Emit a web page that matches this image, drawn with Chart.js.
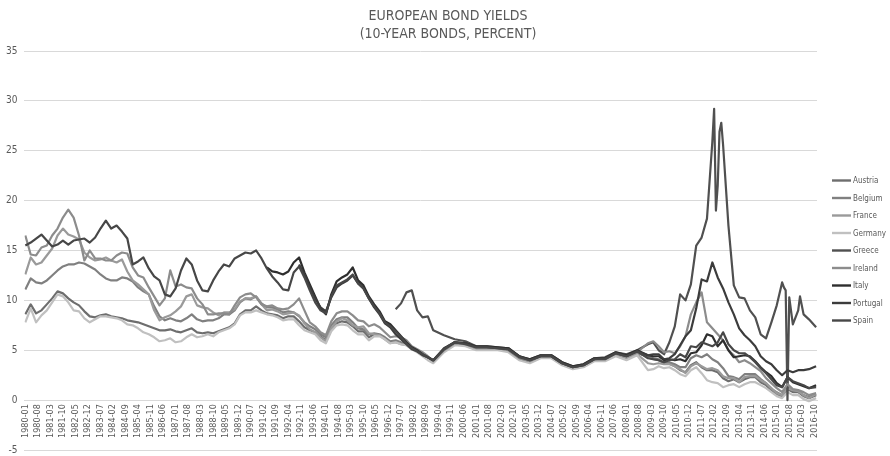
<!DOCTYPE html>
<html>
<head>
<meta charset="utf-8">
<title>European bond yields</title>
<script src="https://cdn.jsdelivr.net/npm/chart.js@4.4.1/dist/chart.umd.min.js"></script>
<style>
  html, body { margin: 0; padding: 0; background: #fff; }
</style>
</head>
<body>
<canvas id="bondChart" width="890" height="456"></canvas>
<script>
// sample months (quarterly to 1998, half-yearly 1999-2008, quarterly after)
const months = [
  '1980-01','1980-04','1980-07','1980-10','1981-01','1981-04','1981-07','1981-10',
  '1982-01','1982-04','1982-07','1982-10','1983-01','1983-04','1983-07','1983-10',
  '1984-01','1984-04','1984-07','1984-10','1985-01','1985-04','1985-07','1985-10',
  '1986-01','1986-04','1986-07','1986-10','1987-01','1987-04','1987-07','1987-10',
  '1988-01','1988-04','1988-07','1988-10','1989-01','1989-04','1989-07','1989-10',
  '1990-01','1990-04','1990-07','1990-10','1991-01','1991-04','1991-07','1991-10',
  '1992-01','1992-04','1992-07','1992-10','1993-01','1993-04','1993-07','1993-10',
  '1994-01','1994-04','1994-07','1994-10','1995-01','1995-04','1995-07','1995-10',
  '1996-01','1996-04','1996-07','1996-10','1997-01','1997-04','1997-07','1997-10',
  '1998-01','1998-04','1998-07','1998-10',
  '1999-01','1999-07','2000-01','2000-07','2001-01','2001-07','2002-01','2002-07','2003-01','2003-07',
  '2004-01','2004-07','2005-01','2005-07','2006-01','2006-07','2007-01','2007-07','2008-01','2008-07',
  '2009-01','2009-04','2009-07','2009-10','2010-01','2010-04','2010-07','2010-10',
  '2011-01','2011-04','2011-07','2011-10','2012-01','2012-04','2012-07','2012-10',
  '2013-01','2013-04','2013-07','2013-10','2014-01','2014-04','2014-07','2014-10',
  '2015-01','2015-04','2015-07','2015-10','2016-01','2016-04','2016-07','2016-11'
];

const austria = [
  8.6, 9.6, 8.7, 9.0,  9.6, 10.2, 10.9, 10.7,  10.2, 9.8, 9.5, 8.9,  8.4, 8.3, 8.5, 8.6,
  8.4, 8.3, 8.2, 8.0,  7.9, 7.8, 7.6, 7.4,  7.2, 7.0, 7.0, 7.1,  6.9, 6.8, 7.0, 7.2,
  6.8, 6.7, 6.8, 6.7,  6.9, 7.1, 7.3, 7.7,  8.6, 9.0, 9.0, 9.4,  9.0, 8.7, 8.6, 8.5,
  8.2, 8.4, 8.4, 7.9,  7.3, 7.0, 6.8, 6.4,  6.0, 7.1, 7.7, 7.9,  7.8, 7.4, 6.9, 6.9,
  6.3, 6.6, 6.5, 6.2,  5.8, 5.9, 5.7, 5.6,  5.2, 4.9, 4.6, 4.2,
  3.9, 4.9, 5.7, 5.6, 5.1, 5.2, 5.1, 5.0, 4.2, 3.9,
  4.4, 4.3, 3.6, 3.2, 3.4, 4.0, 4.1, 4.6, 4.3, 4.7,
  4.4, 4.2, 4.1, 3.7,  3.7, 3.4, 3.0, 2.8,  3.5, 3.8, 3.3, 3.0,  3.0, 2.8, 2.2, 1.9,
  2.1, 1.8, 2.1, 2.3,  2.3, 1.8, 1.5, 1.0,  0.6, 0.3, 1.1, 0.8,  0.8, 0.4, 0.2, 0.5
];
const belgium = [
  11.1, 12.2, 11.8, 11.7,  12.0, 12.5, 13.0, 13.4,  13.6, 13.6, 13.8, 13.7,  13.4, 13.1, 12.6, 12.2,
  12.0, 12.0, 12.3, 12.2,  11.9, 11.3, 10.9, 10.6,  9.4, 8.4, 8.0, 8.2,  8.0, 7.9, 8.2, 8.6,
  8.1, 7.9, 8.0, 8.0,  8.2, 8.6, 8.6, 9.0,  9.8, 10.2, 10.1, 10.4,  9.7, 9.3, 9.3, 9.1,
  8.8, 8.9, 8.8, 8.4,  7.8, 7.4, 7.1, 6.6,  6.3, 7.5, 8.1, 8.3,  8.3, 7.8, 7.2, 7.1,
  6.6, 6.7, 6.6, 6.3,  5.9, 6.0, 5.8, 5.7,  5.3, 5.0, 4.7, 4.2,
  3.9, 5.0, 5.8, 5.7, 5.3, 5.3, 5.2, 5.1, 4.3, 4.0,
  4.4, 4.4, 3.7, 3.3, 3.5, 4.1, 4.1, 4.6, 4.4, 4.8,
  4.3, 4.1, 4.0, 3.7,  3.8, 3.6, 3.3, 3.3,  4.2, 4.5, 4.3, 4.6,  4.1, 3.8, 3.2, 2.4,
  2.3, 2.1, 2.6, 2.6,  2.6, 2.1, 1.7, 1.1,  0.8, 0.5, 1.3, 1.0,  0.9, 0.5, 0.3, 0.6
];
const france = [
  12.6, 14.3, 13.6, 13.8,  14.5, 15.2, 16.5, 17.2,  16.6, 16.4, 16.1, 14.8,  14.3, 14.0, 14.1, 14.3,
  14.0, 13.8, 14.1, 12.9,  12.0, 11.6, 11.1, 10.6,  9.0, 8.0, 8.3, 8.5,  8.9, 9.4, 10.4, 10.6,
  9.5, 9.3, 9.2, 8.8,  8.5, 8.8, 8.8, 9.1,  9.9, 10.2, 10.2, 10.4,  9.6, 9.0, 9.1, 8.9,
  8.6, 8.7, 8.8, 8.5,  7.7, 7.1, 6.8, 6.3,  5.9, 7.2, 7.9, 8.2,  8.0, 7.5, 7.3, 7.4,
  6.7, 6.6, 6.5, 6.1,  5.7, 5.8, 5.6, 5.5,  5.2, 5.0, 4.6, 4.1,
  3.8, 4.9, 5.6, 5.5, 5.1, 5.1, 5.1, 4.9, 4.1, 3.8,
  4.3, 4.3, 3.6, 3.2, 3.4, 4.0, 4.0, 4.5, 4.2, 4.6,
  3.7, 3.6, 3.7, 3.6,  3.6, 3.4, 3.1, 2.7,  3.4, 3.7, 3.4, 3.1,  3.2, 3.0, 2.4, 2.2,
  2.2, 1.8, 2.3, 2.4,  2.4, 2.0, 1.7, 1.2,  0.7, 0.5, 1.2, 1.0,  0.9, 0.5, 0.2, 0.6
];
const germany = [
  7.8, 9.2, 7.8, 8.5,  9.0, 9.8, 10.6, 10.4,  9.8, 9.0, 8.9, 8.2,  7.8, 8.1, 8.4, 8.4,
  8.3, 8.2, 8.0, 7.6,  7.5, 7.2, 6.8, 6.6,  6.3, 5.9, 6.0, 6.2,  5.8, 5.9, 6.3, 6.6,
  6.3, 6.4, 6.6, 6.4,  6.8, 7.0, 7.2, 7.6,  8.5, 8.8, 8.8, 9.0,  8.8, 8.6, 8.5, 8.3,
  8.0, 8.1, 8.1, 7.5,  7.0, 6.8, 6.6, 6.0,  5.7, 6.9, 7.5, 7.6,  7.5, 7.0, 6.6, 6.6,
  6.0, 6.4, 6.4, 6.1,  5.7, 5.8, 5.6, 5.5,  5.1, 4.8, 4.4, 4.0,
  3.7, 4.8, 5.5, 5.4, 5.0, 5.0, 5.0, 4.8, 4.0, 3.7,
  4.2, 4.2, 3.5, 3.1, 3.3, 3.9, 3.9, 4.4, 4.0, 4.5,
  3.0, 3.1, 3.4, 3.2,  3.3, 3.0, 2.6, 2.4,  3.0, 3.3, 2.7, 2.0,  1.8, 1.7, 1.3, 1.5,
  1.6, 1.3, 1.6, 1.8,  1.8, 1.5, 1.2, 0.8,  0.4, 0.2, 0.8, 0.5,  0.5, 0.1, -0.1, 0.2
];
const greece = [
  null, null, null, null,  null, null, null, null,  null, null, null, null,  null, null, null, null,
  null, null, null, null,  null, null, null, null,  null, null, null, null,  null, null, null, null,
  null, null, null, null,  null, null, null, null,  null, null, null, null,  null, null, null, null,
  null, null, null, null,  null, null, null, null,  null, null, null, null,  null, null, null, null,
  null, null, null, null,  null, 9.1, 9.7, 10.8,  11.0, 9.0, 8.3, 8.4,
  7.0, 6.5, 6.1, 5.9, 5.4, 5.4, 5.3, 5.2, 4.4, 4.1,
  4.5, 4.5, 3.8, 3.4, 3.6, 4.2, 4.3, 4.8, 4.6, 5.0,
  5.6, 5.8, 5.0, 4.6,  5.8, 7.4, 10.6, 10.0,  11.6, 15.5, 16.3, 18.2,  25.9, 21.5, 25.6, 17.5,
  11.5, 10.3, 10.2, 9.0,  8.3, 6.6, 6.2, 7.8,  9.5, 11.8, 0, 7.6,  9.0, 8.6, 8.1, 7.3
];
// extra monthly Greek readings around the 2012 peak and the 2015 gap
const greeceDetailMonths = ['2012-02', '2012-03', '2012-05', '2012-06', '2015-05', '2015-06', '2015-08', '2016-02'];
const greeceDetailValues = [29.2, 19.0, 26.9, 27.8, 11.3, 11.0, 10.3, 10.4];
const ireland = [
  16.5, 14.6, 14.5, 15.3,  15.5, 16.5, 17.2, 18.3,  19.1, 18.3, 16.5, 14.0,  15.0, 14.2, 14.2, 14.0,
  14.0, 14.5, 14.8, 14.7,  13.3, 12.5, 12.3, 11.3,  10.4, 9.5, 10.2, 13.0,  11.4, 11.6, 11.3, 11.2,
  10.2, 9.6, 8.6, 8.6,  8.7, 8.7, 8.6, 9.5,  10.3, 10.6, 10.7, 10.3,  9.6, 9.4, 9.5, 9.2,
  9.1, 9.2, 9.6, 10.2,  9.0, 7.8, 7.4, 6.8,  6.5, 7.9, 8.7, 8.9,  8.9, 8.5, 8.0, 7.9,
  7.4, 7.6, 7.3, 6.8,  6.3, 6.4, 6.3, 6.0,  5.4, 5.1, 4.8, 4.4,
  3.9, 5.0, 5.7, 5.6, 5.2, 5.2, 5.2, 5.0, 4.2, 3.9,
  4.4, 4.4, 3.7, 3.3, 3.5, 4.1, 4.1, 4.7, 4.4, 4.8,
  5.7, 5.9, 5.4, 4.8,  4.9, 4.7, 5.4, 6.4,  8.6, 9.8, 10.8, 7.8,  7.2, 6.6, 6.0, 5.0,
  4.5, 3.8, 4.0, 3.7,  3.3, 2.9, 2.2, 1.7,  1.2, 0.8, 1.6, 1.1,  1.0, 0.8, 0.5, 0.7
];
const italy = [
  null, null, null, null,  null, null, null, null,  null, null, null, null,  null, null, null, null,
  null, null, null, null,  null, null, null, null,  null, null, null, null,  null, null, null, null,
  null, null, null, null,  null, null, null, null,  null, null, null, null,  null, 13.3, 12.9, 12.8,
  12.6, 12.9, 13.8, 14.3,  12.8, 11.6, 10.4, 9.2,  8.6, 10.6, 11.9, 12.3,  12.6, 13.3, 12.0, 11.5,
  10.4, 9.6, 8.9, 7.9,  7.6, 7.0, 6.4, 5.8,  5.3, 5.0, 4.6, 4.3,
  4.0, 5.2, 5.8, 5.7, 5.4, 5.4, 5.3, 5.2, 4.4, 4.1,
  4.5, 4.5, 3.8, 3.4, 3.6, 4.2, 4.2, 4.8, 4.5, 5.0,
  4.5, 4.4, 4.4, 4.0,  4.1, 4.0, 4.1, 3.9,  4.7, 4.8, 5.5, 6.6,  6.4, 5.4, 6.0, 5.0,
  4.3, 4.4, 4.5, 4.4,  3.9, 3.3, 2.8, 2.4,  1.7, 1.3, 2.3, 1.8,  1.6, 1.4, 1.2, 1.5
];
const portugal = [
  null, null, null, null,  null, null, null, null,  null, null, null, null,  null, null, null, null,
  null, null, null, null,  null, null, null, null,  null, null, null, null,  null, null, null, null,
  null, null, null, null,  null, null, null, null,  null, null, null, null,  null, null, null, null,
  null, null, null, 13.6,  12.6, 11.3, 10.2, 9.3,  8.9, 10.3, 11.3, 11.7,  12.0, 12.5, 11.7, 11.2,
  10.2, 9.3, 8.6, 7.7,  7.3, 6.6, 6.1, 5.6,  5.1, 4.9, 4.5, 4.3,
  4.0, 5.1, 5.8, 5.7, 5.3, 5.3, 5.2, 5.1, 4.4, 4.0,
  4.4, 4.4, 3.7, 3.3, 3.5, 4.1, 4.2, 4.7, 4.4, 4.9,
  4.5, 4.6, 4.6, 4.1,  4.2, 4.6, 5.5, 6.4,  7.0, 9.2, 12.1, 11.9,  13.8, 12.3, 11.2, 9.8,
  8.6, 7.2, 6.5, 6.0,  5.4, 4.4, 3.9, 3.6,  3.0, 2.5, 3.0, 2.8,  3.0, 3.0, 3.1, 3.4
];
const spain = [
  15.5, 15.8, 16.2, 16.6,  16.0, 15.4, 15.6, 16.0,  15.6, 16.0, 16.1, 16.2,  15.8, 16.3, 17.2, 18.0,
  17.2, 17.5, 16.9, 16.2,  13.6, 13.9, 14.3, 13.2,  12.4, 12.0, 10.6, 10.4,  11.2, 13.0, 14.2, 13.6,
  12.0, 11.0, 10.9, 12.0,  12.9, 13.6, 13.4, 14.2,  14.5, 14.8, 14.7, 15.0,  14.2, 13.2, 12.4, 11.8,
  11.1, 11.0, 12.8, 13.4,  12.3, 11.0, 9.8, 9.0,  8.7, 10.4, 11.5, 11.8,  12.1, 12.6, 11.7, 11.2,
  10.2, 9.4, 8.7, 7.8,  7.4, 6.9, 6.3, 5.7,  5.2, 4.9, 4.6, 4.3,
  4.0, 5.1, 5.8, 5.6, 5.3, 5.3, 5.2, 5.1, 4.3, 4.0,
  4.4, 4.4, 3.7, 3.3, 3.5, 4.1, 4.1, 4.7, 4.4, 4.9,
  4.2, 4.1, 4.0, 3.8,  4.0, 4.1, 4.6, 4.3,  5.4, 5.3, 5.8, 5.6,  5.4, 5.8, 6.8, 5.6,
  5.0, 4.7, 4.7, 4.3,  3.8, 3.2, 2.7, 2.1,  1.5, 1.3, 2.3, 1.9,  1.7, 1.5, 1.2, 1.3
];

const countries = ['Austria', 'Belgium', 'France', 'Germany', 'Greece', 'Ireland', 'Italy', 'Portugal', 'Spain'];
const countryValues = [austria, belgium, france, germany, greece, ireland, italy, portugal, spain];
const countryColors = ['#6e6e6e', '#808080', '#9a9a9a', '#c0c0c0', '#505050', '#8c8c8c', '#2e2e2e', '#3c3c3c', '#474747'];

const yTicks = {min: -5, max: 35, step: 5};
const xTickStep = 7; // one label every 7 months, as in the original

const FONT = "'Liberation Sans Narrow', 'DejaVu Sans Condensed', 'Liberation Sans', sans-serif";
const TEXT_GREY = '#595959';
const LEGEND_WIDTH = 73;

function monthIndex(s) {
    const parts = s.split('-');
    return (parseInt(parts[0], 10) - 1980) * 12 + parseInt(parts[1], 10) - 1;
}

function monthLabel(idx) {
    const y = 1980 + Math.floor(idx / 12);
    const m = idx % 12 + 1;
    return y + '-' + (m < 10 ? '0' + m : m);
}

function buildPoints(values, extraMonths, extraValues) {
    const pts = [];
    values.forEach(function(v, i) {
        if (v !== null) pts.push({x: monthIndex(months[i]), y: v});
    });
    if (extraMonths) {
        extraMonths.forEach(function(mo, i) {
            pts.push({x: monthIndex(mo), y: extraValues[i]});
        });
    }
    pts.sort(function(a, b) { return a.x - b.x; });
    return pts;
}

// legend on the right, Excel style: short line + name, block centred on the plot
const sideLegend = {
    id: 'sideLegend',
    beforeInit: function(chart) {
        // reserve a column on the right so the plot ends where the original does
        Chart.layouts.addBox(chart, {
            position: 'right',
            weight: 1000,
            fullSize: false,
            options: {},
            left: 0, top: 0, right: 0, bottom: 0, width: 0, height: 0,
            isHorizontal: function() { return false; },
            update: function(maxWidth, maxHeight) {
                this.width = LEGEND_WIDTH;
                this.height = maxHeight;
            },
            draw: function() {}
        });
    },
    afterDraw: function(chart) {
        const ctx = chart.ctx;
        const area = chart.chartArea;
        const sets = chart.data.datasets;
        const step = 17.5;
        const x0 = area.right + 15;
        const textX = x0 + 21;
        const y0 = (area.top + area.bottom) / 2 - (sets.length - 1) * step / 2;
        ctx.save();
        // shrink the label font until the longest name fits inside the canvas
        let size = 10;
        const room = chart.width - textX - 2;
        while (size > 7) {
            ctx.font = size + 'px ' + FONT;
            const widest = Math.max.apply(null, sets.map(function(ds) { return ctx.measureText(ds.label).width; }));
            if (widest <= room) break;
            size -= 0.5;
        }
        ctx.textBaseline = 'middle';
        ctx.textAlign = 'left';
        sets.forEach(function(ds, i) {
            const y = y0 + i * step;
            ctx.strokeStyle = ds.borderColor;
            ctx.lineWidth = 2.4;
            ctx.beginPath();
            ctx.moveTo(x0, y);
            ctx.lineTo(x0 + 19, y);
            ctx.stroke();
            ctx.fillStyle = TEXT_GREY;
            ctx.fillText(ds.label, textX, y + 0.5);
        });
        ctx.restore();
    }
};

document.addEventListener('DOMContentLoaded', function() {
    Chart.defaults.font.family = FONT;
    Chart.defaults.color = TEXT_GREY;

    const datasets = countries.map(function(name, i) {
        const isGreece = name === 'Greece';
        return {
            label: name,
            data: buildPoints(countryValues[i], isGreece ? greeceDetailMonths : null, isGreece ? greeceDetailValues : null),
            borderColor: countryColors[i],
            backgroundColor: countryColors[i],
            borderWidth: 2.2,
            pointRadius: 0,
            tension: 0,
            borderJoinStyle: 'round',
            order: countries.length - i // later series drawn on top
        };
    });

    const ctx = document.getElementById('bondChart');
    new Chart(ctx, {
        type: 'line',
        data: {datasets: datasets},
        options: {
            responsive: false,
            animation: false,
            layout: {padding: {left: 6, right: 0, top: 0, bottom: 0}},
            scales: {
                x: {
                    type: 'linear',
                    position: {y: 0},
                    min: -0.5,
                    max: monthIndex(months[months.length - 1]) + 0.5,
                    grid: {display: false, drawTicks: false},
                    border: {display: true, color: '#d9d9d9'},
                    ticks: {
                        stepSize: xTickStep,
                        includeBounds: false,
                        autoSkip: false,
                        minRotation: 90,
                        maxRotation: 90,
                        padding: 4,
                        font: {size: 9},
                        callback: function(value) { return monthLabel(value); }
                    }
                },
                y: {
                    min: yTicks.min,
                    max: yTicks.max,
                    grid: {color: '#d9d9d9', drawTicks: true, tickLength: 7, tickColor: 'rgba(0,0,0,0)'},
                    border: {display: false},
                    ticks: {stepSize: yTicks.step, padding: 0, font: {size: 10}}
                }
            },
            plugins: {
                title: {
                    display: true,
                    text: ['EUROPEAN BOND YIELDS', '(10-YEAR BONDS, PERCENT)'],
                    font: {size: 14, weight: 'normal', lineHeight: 1.25},
                    padding: {top: 8, bottom: 8}
                },
                legend: {display: false},
                tooltip: {enabled: false}
            }
        },
        plugins: [sideLegend]
    });
});
</script>
</body>
</html>
